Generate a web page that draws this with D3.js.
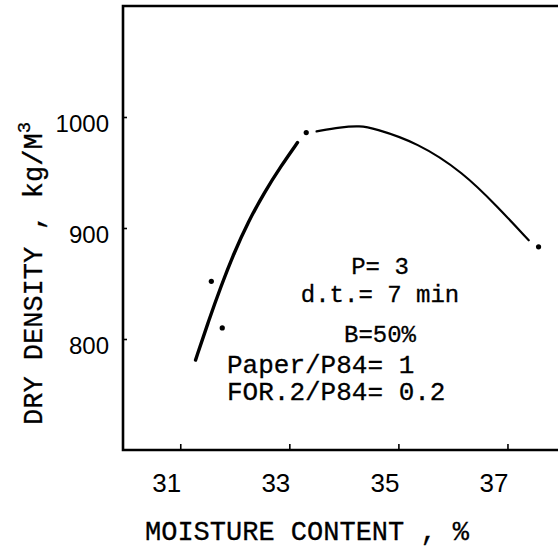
<!DOCTYPE html>
<html>
<head>
<meta charset="utf-8">
<script src="https://cdn.jsdelivr.net/npm/d3@7"></script>
<style>
  body { margin: 0; background: #fff; }
  .mono { font-family: "Liberation Mono", "Courier New", monospace; fill: #000; stroke: #000; stroke-width: 0.3; }
  .num { font-family: "Liberation Sans", Arial, sans-serif; fill: #000; }
</style>
</head>
<body>
<svg id="chart"></svg>
<script>
var width = 558, height = 552
var margin = {left: 123, top: 6, bottom: 102}

// fitted curve (moisture %, kg/m3) - drawn in two pieces
var curveLow = [[31.28,781],[31.51,815],[31.75,848],[31.99,878],[32.24,905],[32.54,932],[32.85,956],[33.15,977]]
var curveHigh = [[33.50,987],[33.94,991],[34.30,992],[34.54,990],[35.35,977],[36.19,950],[36.82,919],[37.39,889]]
// measured points
var pointsX = [31.57, 31.77, 33.31, 37.57]
var pointsY = [852, 810, 986, 883]

var xTicks = [31, 33, 35, 37]
var yTicks = [800, 900, 1000]
var notes = ['P= 3', 'd.t.= 7 min', 'B=50%']
var notesLeft = ['Paper/P84= 1', 'FOR.2/P84= 0.2']

var svg = d3.select('#chart').attr('width', width).attr('height', height)

var x = d3.scaleLinear().domain([29.95, 38]).range([margin.left, 562])
var y = d3.scaleLinear().domain([700, 1100]).range([height - margin.bottom, margin.top])

// axes with inward ticks
var xAxis = svg.append('g')
  .attr('transform', 'translate(0,' + y(700) + ')')
  .call(d3.axisBottom(x).tickValues(xTicks).tickSize(-6).tickPadding(0).tickFormat(d3.format('d')))
xAxis.select('.domain').remove()
xAxis.selectAll('.tick line').attr('stroke', '#000').attr('stroke-width', 1.6)
xAxis.selectAll('.tick text').attr('class', 'num').attr('font-size', 26)
  .attr('y', 42).attr('dy', 0).attr('dx', -14)

var yAxis = svg.append('g')
  .attr('transform', 'translate(' + x(29.95) + ',0)')
  .call(d3.axisLeft(y).tickValues(yTicks).tickSize(-4).tickPadding(0).tickFormat(d3.format('d')))
yAxis.select('.domain').remove()
yAxis.selectAll('.tick line').attr('stroke', '#000').attr('stroke-width', 1.6)
yAxis.selectAll('.tick text').attr('class', 'num').attr('font-size', 24)
  .attr('x', -14).attr('dy', '0.4em').attr('transform', 'translate(0,5)')

// frame: left, top and bottom (open on the right)
var frame = d3.path()
frame.moveTo(width, y(1100))
frame.lineTo(x(29.95), y(1100))
frame.lineTo(x(29.95), y(700))
frame.lineTo(width, y(700))
svg.append('path').attr('d', frame.toString())
  .attr('fill', 'none').attr('stroke', '#000').attr('stroke-width', 2.6)

var line = d3.line()
  .x(function(d){ return x(d[0]) })
  .y(function(d){ return y(d[1]) })
  .curve(d3.curveBasis)

svg.append('path').attr('d', line(curveLow))
  .attr('fill', 'none').attr('stroke', '#000').attr('stroke-width', 3.4).attr('stroke-linecap', 'round')
svg.append('path').attr('d', line(curveHigh))
  .attr('fill', 'none').attr('stroke', '#000').attr('stroke-width', 2.2).attr('stroke-linecap', 'round')

svg.selectAll('.pt').data(pointsX)
  .enter().append('circle')
  .classed('pt', true)
  .attr('cx', function(d){ return x(d) })
  .attr('cy', function(d, i){ return y(pointsY[i]) })
  .attr('r', 2.6)
  .attr('fill', '#000')

// axis titles
svg.append('text').attr('class', 'mono')
  .attr('x', 145).attr('y', 540)
  .attr('font-size', 27)
  .text('MOISTURE CONTENT , %')

var yt = svg.append('text').attr('class', 'mono')
  .attr('transform', 'translate(42,425) rotate(-90)')
  .attr('font-size', 27)
yt.append('tspan').text('DRY DENSITY , kg/M')
yt.append('tspan').attr('font-size', 19).attr('dy', -12).text('3')

// annotation block
svg.selectAll('.note').data(notes)
  .enter().append('text')
  .attr('class', 'mono note')
  .attr('x', 380)
  .attr('y', function(d, i){ return [274, 302, 342][i] })
  .attr('text-anchor', 'middle')
  .attr('font-size', 24)
  .text(function(d){ return d })

svg.selectAll('.noteL').data(notesLeft)
  .enter().append('text')
  .attr('class', 'mono noteL')
  .attr('x', 227)
  .attr('y', function(d, i){ return [373, 400][i] })
  .attr('font-size', 26)
  .text(function(d){ return d })
</script>
</body>
</html>
